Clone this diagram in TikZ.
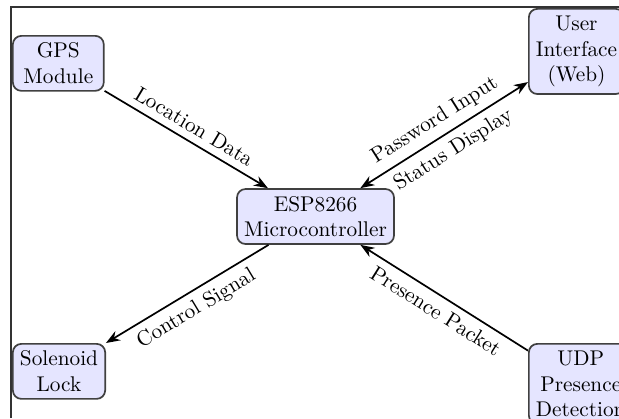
\documentclass[tikz,border=0pt]{standalone}
\usetikzlibrary{arrows.meta}
\begin{document}
\begin{tikzpicture}[x=0.4695pt,y=-0.4695pt,
  box/.style={draw=black!75, fill=blue!10, rounded corners=4pt, thick, align=center, minimum width=1.5cm, inner sep=3.33pt},
  conn/.style={thick, -Stealth},
  lbl/.style={sloped}]
\useasboundingbox (0,0) rectangle (619,418);
\clip (0,0) rectangle (619,418);
\draw[black!80, line width=0.5pt] (11,418) -- (11,7) -- (619,7);
\node[box, anchor=north west] (gps) at (12,35) {GPS\\Module};
\node[box] (esp) at (315.5,216.5) {ESP8266\\Microcontroller};
\node[box, anchor=north west] (ui) at (528,8) {User\\Interface\\(Web)};
\node[box, anchor=north west] (sol) at (12,343) {Solenoid\\Lock};
\node[box, anchor=north west] (udp) at (528,343) {UDP\\Presence\\Detection};
\draw[conn] (gps) -- node[lbl, above] {Location Data} (esp);
\draw[thick, Stealth-Stealth] (esp) -- node[lbl, above] {Password Input} node[lbl, below] {Status Display} (ui);
\draw[conn] (esp) -- node[lbl, below] {Control Signal} (sol);
\draw[conn] (udp) -- node[lbl, below] {Presence Packet} (esp);
\end{tikzpicture}
\end{document}
